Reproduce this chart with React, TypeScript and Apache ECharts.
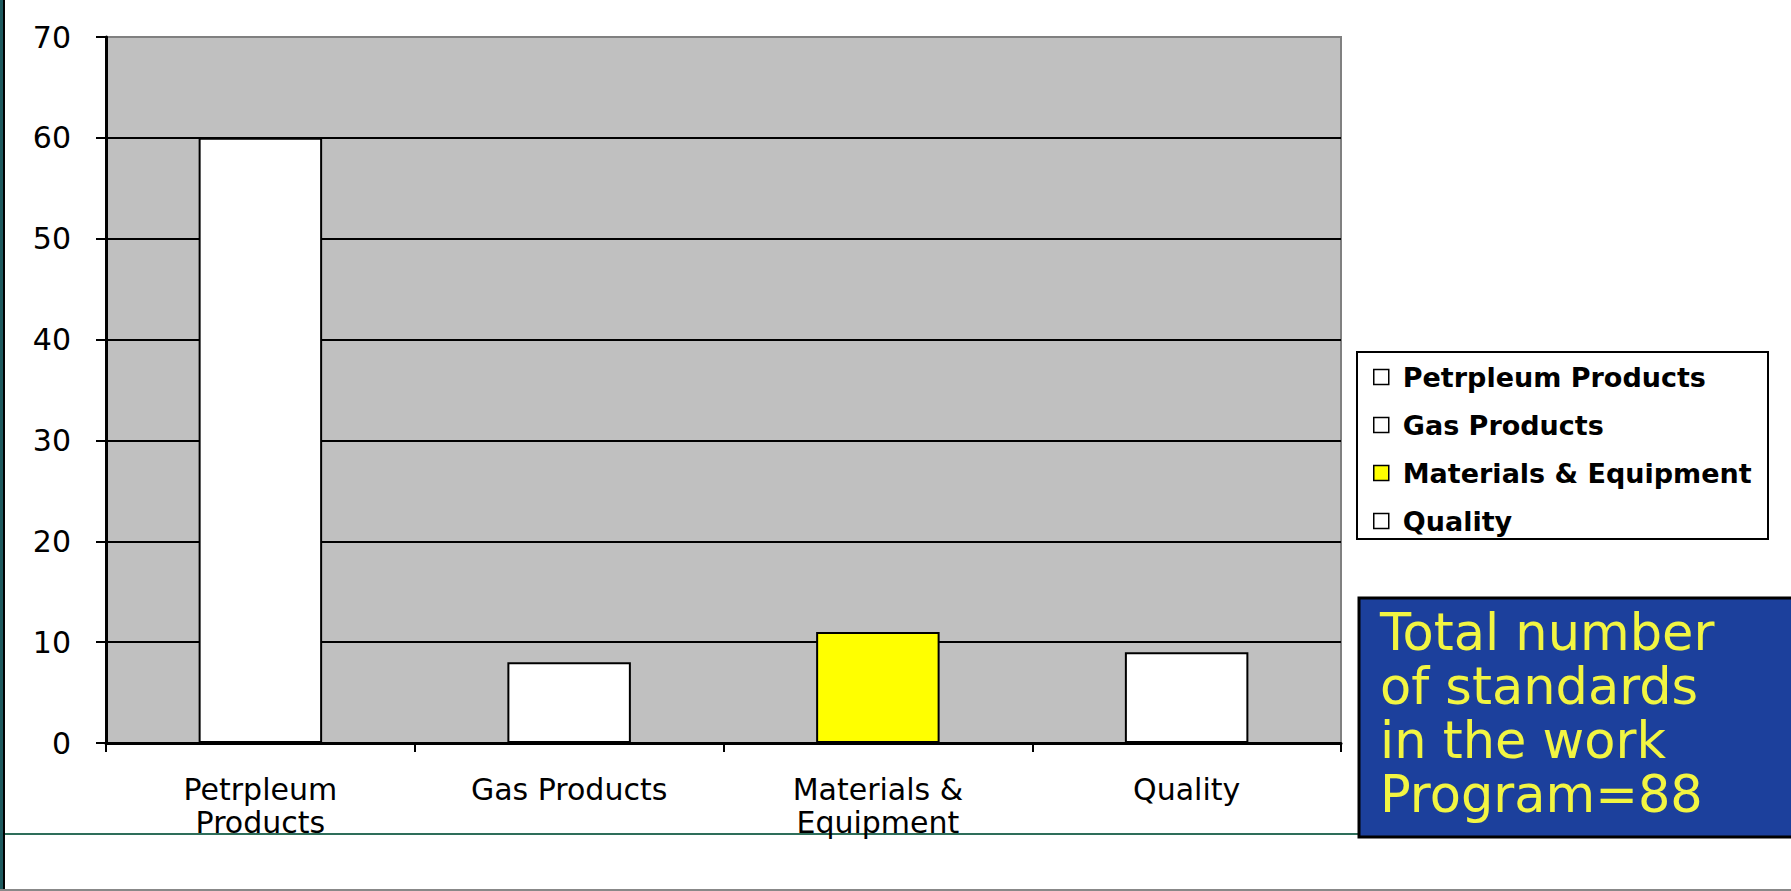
import React, { useEffect, useRef } from "react";
import * as echarts from "echarts";

const categories = ["Petrpleum\nProducts", "Gas Products", "Materials &\nEquipment", "Quality"];
const seriesNames = ["Petrpleum Products", "Gas Products", "Materials & Equipment", "Quality"];
const values = [60, 8, 11, 9];
const barColors = ["#ffffff", "#ffffff", "#ffff00", "#ffffff"];
const yMin = 0;
const yMax = 70;
const yInterval = 10;
const noteLines = ["Total number", "of standards", "in the work", "Program=88"];

const FONT = "'DejaVu Sans', Verdana, sans-serif";

export default function App() {
  const ref = useRef<HTMLDivElement>(null);

  useEffect(() => {
    if (!ref.current) return;
    const chart = echarts.init(ref.current, null, { renderer: "svg" });

    const series = seriesNames.map((name, i) => ({
      name,
      type: "bar",
      barWidth: "40%",
      barGap: "-100%",
      data: categories.map((_, j) => (j === i ? values[i] : "-")),
      itemStyle: { color: barColors[i], borderColor: "#000", borderWidth: 2 },
      emphasis: { disabled: true },
    }));

    const splitColors: string[] = [];
    for (let v = yMin; v <= yMax; v += yInterval) splitColors.push(v === yMax ? "#808080" : "#000000");

    const noteTexts = noteLines.map((line, i) => ({
      type: "text",
      x: 1380,
      y: 632 + i * 54,
      style: {
        text: line,
        fill: "#f2f542",
        fontFamily: FONT,
        fontSize: 51,
        align: "left",
        verticalAlign: "middle",
      },
    }));

    chart.setOption({
      animation: false,
      backgroundColor: "#ffffff",
      textStyle: { fontFamily: FONT },
      grid: {
        left: 106,
        top: 37,
        right: 1791 - 1341,
        bottom: 891 - 743,
        show: true,
        backgroundColor: "#c0c0c0",
        borderColor: "#808080",
        borderWidth: 2,
        containLabel: false,
      },
      xAxis: {
        type: "category",
        data: categories,
        boundaryGap: true,
        axisLine: { show: true, lineStyle: { color: "#000", width: 3 } },
        axisTick: { show: true, alignWithLabel: false, length: 9, lineStyle: { color: "#000", width: 2 } },
        axisLabel: {
          color: "#000",
          fontSize: 30,
          fontFamily: FONT,
          lineHeight: 33,
          margin: 30,
          interval: 0,
        },
        splitLine: { show: false },
      },
      yAxis: {
        type: "value",
        min: yMin,
        max: yMax,
        interval: yInterval,
        axisLine: { show: true, lineStyle: { color: "#000", width: 3 } },
        axisTick: { show: true, length: 10, lineStyle: { color: "#000", width: 2 } },
        axisLabel: { color: "#000", fontSize: 30, fontFamily: FONT, margin: 35 },
        splitLine: { show: true, lineStyle: { color: splitColors, width: 2 } },
      },
      legend: {
        orient: "vertical",
        left: 1373,
        top: 363,
        padding: 0,
        itemWidth: 15,
        itemHeight: 15,
        itemGap: 20,
        icon: "rect",
        selectedMode: false,
        itemStyle: { borderColor: "#000", borderWidth: 1.5 },
        textStyle: {
          fontFamily: FONT,
          fontSize: 27,
          fontWeight: "bold",
          color: "#000",
          lineHeight: 28,
          padding: [0, 0, 0, 9],
        },
        data: seriesNames,
      },
      graphic: [
        { type: "rect", shape: { x: 0, y: 0, width: 3, height: 891 }, style: { fill: "#1e5a5e" } },
        { type: "rect", shape: { x: 3, y: 0, width: 2, height: 891 }, style: { fill: "#000" } },
        { type: "rect", shape: { x: 5, y: 833, width: 1353, height: 2 }, style: { fill: "#2e6e5a" } },
        { type: "rect", shape: { x: 0, y: 889, width: 1791, height: 2 }, style: { fill: "#888888" } },
        {
          type: "rect",
          shape: { x: 1357, y: 352, width: 411, height: 187 },
          style: { fill: "#ffffff", stroke: "#000", lineWidth: 2 },
        },
        {
          type: "rect",
          shape: { x: 1359, y: 598, width: 450, height: 239 },
          style: { fill: "#1c409c", stroke: "#000", lineWidth: 3 },
        },
        ...noteTexts,
      ],
      series,
    });

    return () => chart.dispose();
  }, []);

  return (
    <div
      ref={ref}
      style={{ position: "fixed", left: 0, top: 0, width: 1791, height: 891, background: "#fff" }}
    />
  );
}
